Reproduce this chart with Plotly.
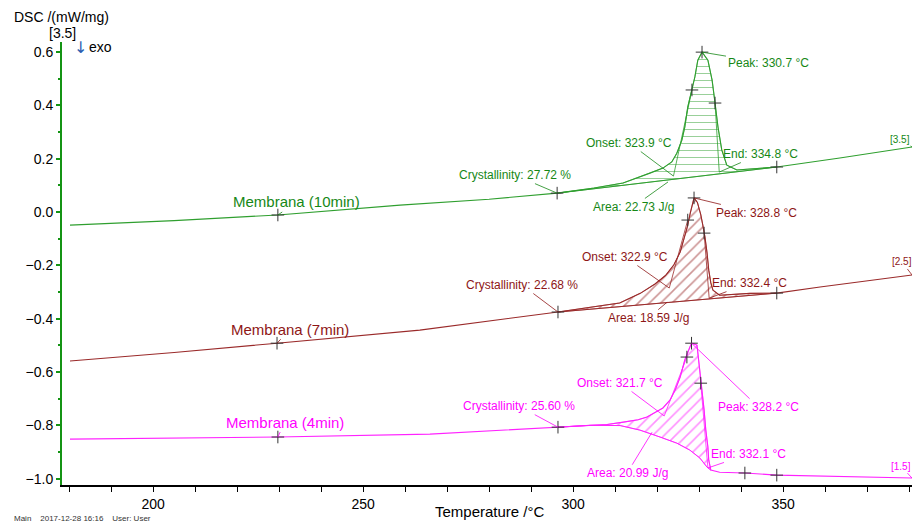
import numpy as np
import plotly.graph_objects as go

# ---- DSC heating curves (temperature in °C, heat flow in mW/mg) ----
temp_10 = [180.2, 205.0, 229.7, 258.8, 280.0, 296.2, 305.0, 311.9, 318.3, 321.4, 323.5,
           324.7, 325.9, 326.6, 327.3, 328.3, 329.0, 329.7, 330.7, 332.1, 333.1, 333.8,
           334.5, 335.4, 336.6, 339.0, 348.5, 363.5, 380.7]
dsc_10 = [-0.049, -0.032, -0.011, 0.026, 0.048, 0.071, 0.090, 0.109, 0.146, 0.165, 0.188,
          0.221, 0.270, 0.319, 0.394, 0.458, 0.507, 0.570, 0.600, 0.570, 0.495, 0.409,
          0.319, 0.233, 0.176, 0.158, 0.169, 0.203, 0.244]

temp_7 = [180.2, 205.0, 229.5, 263.5, 296.4, 305.0, 311.1, 316.0, 319.5, 322.0, 324.0,
          325.5, 326.4, 327.2, 327.9, 328.4, 328.8, 329.6, 330.4, 330.9, 331.4, 331.9,
          332.3, 332.8, 333.3, 334.9, 342.1, 348.5, 358.8, 380.7]
dsc_7 = [-0.559, -0.527, -0.492, -0.443, -0.375, -0.356, -0.341, -0.305, -0.270, -0.238, -0.198,
         -0.150, -0.105, -0.056, -0.004, 0.035, 0.053, 0.036, -0.010, -0.050, -0.094, -0.154,
         -0.218, -0.266, -0.293, -0.312, -0.305, -0.304, -0.281, -0.236]

temp_4 = [180.2, 229.7, 265.9, 296.4, 304.0, 308.1, 312.0, 315.5, 317.6, 321.4, 323.1,
          324.3, 325.5, 326.6, 327.8, 328.2, 329.5, 330.0, 330.7, 331.2, 331.6, 332.1,
          332.3, 332.8, 334.9, 340.9, 348.5, 365.9, 380.7]
dsc_4 = [-0.852, -0.844, -0.833, -0.807, -0.801, -0.797, -0.788, -0.779, -0.769, -0.735, -0.705,
         -0.668, -0.619, -0.555, -0.507, -0.492, -0.499, -0.567, -0.657, -0.743, -0.818, -0.882,
         -0.931, -0.968, -0.976, -0.979, -0.987, -0.994, -0.998]

# ---- integration baselines ----
base_t_10 = [296.2, 348.5]
base_v_10 = [0.071, 0.169]
base_t_7 = [296.4, 348.5]
base_v_7 = [-0.375, -0.304]
base_t_4 = [296.4, 304.0, 311.2, 315.9, 320.7, 324.7, 327.8, 330.2, 331.9, 332.8]
base_v_4 = [-0.807, -0.800, -0.801, -0.818, -0.844, -0.867, -0.893, -0.923, -0.957, -0.968]

# ---- evaluation points (+ marks) ----
mark_t_10 = [229.7, 296.2, 328.3, 330.7, 333.8, 348.5]
mark_v_10 = [-0.011, 0.071, 0.458, 0.600, 0.409, 0.169]
mark_t_7 = [229.5, 296.4, 327.3, 328.8, 331.2, 348.5]
mark_v_7 = [-0.492, -0.375, -0.030, 0.053, -0.079, -0.304]
mark_t_4 = [229.7, 296.4, 327.1, 328.2, 330.4, 340.9, 348.5]
mark_v_4 = [-0.844, -0.807, -0.544, -0.492, -0.642, -0.979, -0.987]

# ---- evaluation results ----
names = ["Membrana (10min)", "Membrana (7min)", "Membrana (4min)"]
segments = ["[3.5]", "[2.5]", "[1.5]"]
crystallinity = [27.72, 22.68, 25.60]
onset_t = [323.9, 322.9, 321.7]
onset_v = [0.135, -0.285, -0.765]
peak_t = [330.7, 328.8, 328.2]
peak_v = [0.600, 0.053, -0.492]
end_t = [334.8, 332.4, 332.1]
end_v = [0.150, -0.323, -0.960]
area = [22.73, 18.59, 20.99]
area_t = [322.6, 322.4, 318.8]
area_v = [0.113, -0.338, -0.826]
# flank tangent points (left, right)
flank_l_t = [328.3, 327.3, 327.1]
flank_l_v = [0.458, -0.030, -0.544]
flank_r_t = [333.8, 331.2, 330.4]
flank_r_v = [0.409, -0.079, -0.642]

line_colors = ["#2f9f2f", "#9a2a2a", "#ff22ff"]
text_colors = ["#168816", "#8e1616", "#ff00ff"]
hatch_shape = ["-", "/", "/"]
hatch_size = [7, 8, 8]
hatch_solidity = [0.14, 0.2, 0.2]

FONT = "Liberation Sans, Arial, sans-serif"

curves = [(temp_10, dsc_10), (temp_7, dsc_7), (temp_4, dsc_4)]
bases = [(base_t_10, base_v_10), (base_t_7, base_v_7), (base_t_4, base_v_4)]
marks = [(mark_t_10, mark_v_10), (mark_t_7, mark_v_7), (mark_t_4, mark_v_4)]


def hatch_polygon(t, v, bt, bv):
    """Closed outline between a curve and its integration baseline."""
    t = np.asarray(t, float)
    v = np.asarray(v, float)
    bt = np.asarray(bt, float)
    bv = np.asarray(bv, float)
    lo, hi = bt[0], bt[-1]
    inside = (t > lo) & (t < hi)
    ct = np.concatenate([[lo], t[inside], [hi]])
    cv = np.concatenate([[np.interp(lo, t, v)], v[inside], [np.interp(hi, t, v)]])
    return np.concatenate([ct, bt[::-1], [lo]]), np.concatenate([cv, bv[::-1], [cv[0]]])


fig = go.Figure()

for i in range(3):
    t, v = curves[i]
    bt, bv = bases[i]
    px, py = hatch_polygon(t, v, bt, bv)
    fig.add_trace(go.Scatter(
        x=px, y=py, mode="lines", fill="toself",
        line=dict(color=line_colors[i], width=0.6),
        fillcolor="rgba(0,0,0,0)",
        fillpattern=dict(shape=hatch_shape[i], fgcolor=line_colors[i],
                         bgcolor="rgba(0,0,0,0)", size=hatch_size[i],
                         solidity=hatch_solidity[i]),
        hoverinfo="skip", showlegend=False))
    # baseline
    fig.add_trace(go.Scatter(x=bt, y=bv, mode="lines",
                             line=dict(color=line_colors[i], width=1),
                             hoverinfo="skip", showlegend=False))
    # flank tangents down to onset / end
    fig.add_trace(go.Scatter(
        x=[onset_t[i], flank_l_t[i], None, end_t[i], flank_r_t[i]],
        y=[onset_v[i], flank_l_v[i], None, end_v[i], flank_r_v[i]],
        mode="lines", line=dict(color=line_colors[i], width=0.8),
        hoverinfo="skip", showlegend=False))
    # measured curve
    fig.add_trace(go.Scatter(x=t, y=v, mode="lines",
                             line=dict(color=line_colors[i], width=1.1),
                             name=names[i], showlegend=False))
    mt, mv = marks[i]
    fig.add_trace(go.Scatter(
        x=mt, y=mv, mode="markers",
        marker=dict(symbol="cross-thin", size=9, line=dict(color="#333333", width=1)),
        hoverinfo="skip", showlegend=False))

# label placement: pixel offsets of label centre from the pointed-at value
offsets = [
    dict(name=(19, -13), cryst=(-42, -18), onset=(-44, -33), peak=(66, 11),
         end=(41, -18), area=(-35, 25), seg=(-12, -8)),
    dict(name=(13, -14), cryst=(-36, -27), onset=(-44, -31), peak=(62, 15),
         end=(40, -15), area=(-19, 16), seg=(-10, -13)),
    dict(name=(7, -15), cryst=(-39, -21), onset=(-44, -33), peak=(67, 64),
         end=(41, -14), area=(-25, 41), seg=(-11, -12)),
]

annotations = []


def label(text, x, y, off, color, size=12):
    annotations.append(dict(
        x=x, y=y, xref="x", yref="y", text=text, showarrow=True,
        ax=off[0], ay=off[1], arrowhead=0, arrowwidth=0.8, arrowcolor=color,
        standoff=0, startstandoff=0,
        font=dict(family=FONT, size=size, color=color)))


for i in range(3):
    t, v = curves[i]
    c = text_colors[i]
    o = offsets[i]
    mt, mv = marks[i]
    label(names[i], mt[0], mv[0], o["name"], c, size=15)
    label(f"Crystallinity: {crystallinity[i]:.2f} %", mt[1], mv[1], o["cryst"], c)
    label(f"Onset: {onset_t[i]:.1f} °C", onset_t[i], onset_v[i], o["onset"], c)
    label(f"Peak: {peak_t[i]:.1f} °C", peak_t[i], peak_v[i], o["peak"], c)
    label(f"End: {end_t[i]:.1f} °C", end_t[i], end_v[i], o["end"], c)
    label(f"Area: {area[i]:.2f} J/g", area_t[i], area_v[i], o["area"], c)
    label(segments[i], t[-1], v[-1], o["seg"], c, size=10)

# header, axis title and footer
annotations += [
    dict(x=-0.0588, y=1.0575, xref="paper", yref="paper", xanchor="left", yanchor="middle",
         text="DSC /(mW/mg)", showarrow=False, font=dict(family=FONT, size=14, color="black")),
    dict(x=0.0, y=1.0195, xref="paper", yref="paper", xanchor="center", yanchor="middle",
         text="[3.5]", showarrow=False, font=dict(family=FONT, size=14, color="black")),
    dict(x=0.0212, y=0.9887, xref="paper", yref="paper", xanchor="center", yanchor="middle",
         text="↓", showarrow=False, font=dict(family="DejaVu Sans", size=16, color="#2a5db0")),
    dict(x=0.0294, y=0.9887, xref="paper", yref="paper", xanchor="left", yanchor="middle",
         text="exo", showarrow=False, font=dict(family=FONT, size=14, color="black")),
    dict(x=0.5035, y=-0.0609, xref="paper", yref="paper", xanchor="center", yanchor="middle",
         text="Temperature /°C", showarrow=False, font=dict(family=FONT, size=15, color="black")),
    dict(x=-0.0588, y=-0.0767, xref="paper", yref="paper", xanchor="left", yanchor="middle",
         text="Main    2017-12-28 16:16    User: User", showarrow=False,
         font=dict(family=FONT, size=8, color="#333333")),
]

fig.update_layout(
    width=912, height=524,
    margin=dict(l=62, r=0, t=42, b=39),
    paper_bgcolor="white", plot_bgcolor="white",
    font=dict(family=FONT, size=14, color="black"),
    annotations=annotations,
    showlegend=False,
    xaxis=dict(range=[178.3, 380.7], showgrid=False, zeroline=False,
               showline=True, linecolor="black", linewidth=2,
               tickvals=[200, 250, 300, 350], ticks="outside", ticklen=5,
               tickcolor="black", tickwidth=1,
               minor=dict(dtick=10, tick0=180, ticks="outside", ticklen=5,
                          tickcolor="black", tickwidth=1),
               tickfont=dict(family=FONT, size=14, color="black")),
    yaxis=dict(range=[-1.024, 0.638], showgrid=False, zeroline=False,
               showline=True, linecolor="#149414", linewidth=2,
               tick0=-1.0, dtick=0.2, tickformat=".1f", ticks="outside", ticklen=4,
               tickcolor="#149414", tickwidth=2,
               minor=dict(dtick=0.1, ticks="outside", ticklen=2,
                          tickcolor="#149414", tickwidth=2),
               tickfont=dict(family=FONT, size=14, color="black")),
)

fig.write_html("out.html")
